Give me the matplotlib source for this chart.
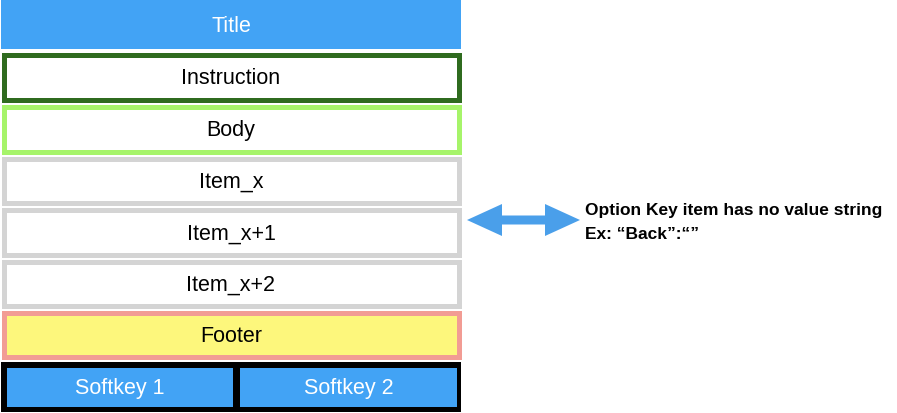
import matplotlib
matplotlib.use("Agg")
import matplotlib.pyplot as plt
from matplotlib.patches import Rectangle

plt.rcParams['font.family'] = ['Liberation Sans', 'DejaVu Sans']

#Stacked rows of the screen layout (top, bottom in pixels)
labels = ["Instruction", "Body", "Item_x", "Item_x+1", "Item_x+2", "Footer"]
rows = [(53, 103), (105, 155), (157, 206), (208, 258), (260, 309), (311, 360)]
edges = ["#2f6b1f", "#a6f46a", "#d4d4d4", "#d4d4d4", "#d4d4d4", "#f29c94"]
fills = ["white", "white", "white", "white", "white", "#fdf77c"]
softkeys = ["Softkey 1", "Softkey 2"]
blue = "#42a3f5"
fs = 15.5

fig = plt.figure(figsize=(8.97, 4.14), dpi=100)
ax = fig.add_axes([0, 0, 1, 1])
ax.set_xlim(0, 897)
ax.set_ylim(414, 0)
ax.set_axis_off()

lw = 5 * 72 / 100  #5 px border

#Title bar
ax.add_patch(Rectangle((1, 0), 460, 50, facecolor=blue, edgecolor="none"))
ax.text(231, 26, "Title", color="white", fontsize=fs, ha="center", va="center")

#Bordered rows
for lab, (t, b), ec, fc in zip(labels, rows, edges, fills):
    ax.add_patch(Rectangle((3.5, t + 2.5), 455, b - t - 5, facecolor=fc, edgecolor=ec, linewidth=lw))
    ax.text(231, (t + b) / 2 + 1, lab, color="black", fontsize=fs, ha="center", va="center")

#Softkey frame
ax.add_patch(Rectangle((1, 363), 460, 50, facecolor="black", edgecolor="none"))
for i, sk in enumerate(softkeys):
    x0 = 7 + i * 233
    ax.add_patch(Rectangle((x0, 369), 226 - i * 9, 39, facecolor=blue, edgecolor="none"))
    ax.text(x0 + (226 - i * 9) / 2, 389, sk, color="white", fontsize=fs, ha="center", va="center")

#Double arrow
mid = 523
for end in (467, 580):
    ax.arrow(mid, 221, end - mid, 0, width=9, head_width=32, head_length=35,
             length_includes_head=True, color="#4a9fea", linewidth=0)

ax.text(585, 211, "Option Key item has no value string", fontsize=12.5, fontweight="bold",
        ha="left", va="center")
ax.text(585, 235, "Ex: \u201cBack\u201d:\u201c\u201d", fontsize=12.5, fontweight="bold",
        ha="left", va="center")

fig.savefig("out.png", dpi=100)
